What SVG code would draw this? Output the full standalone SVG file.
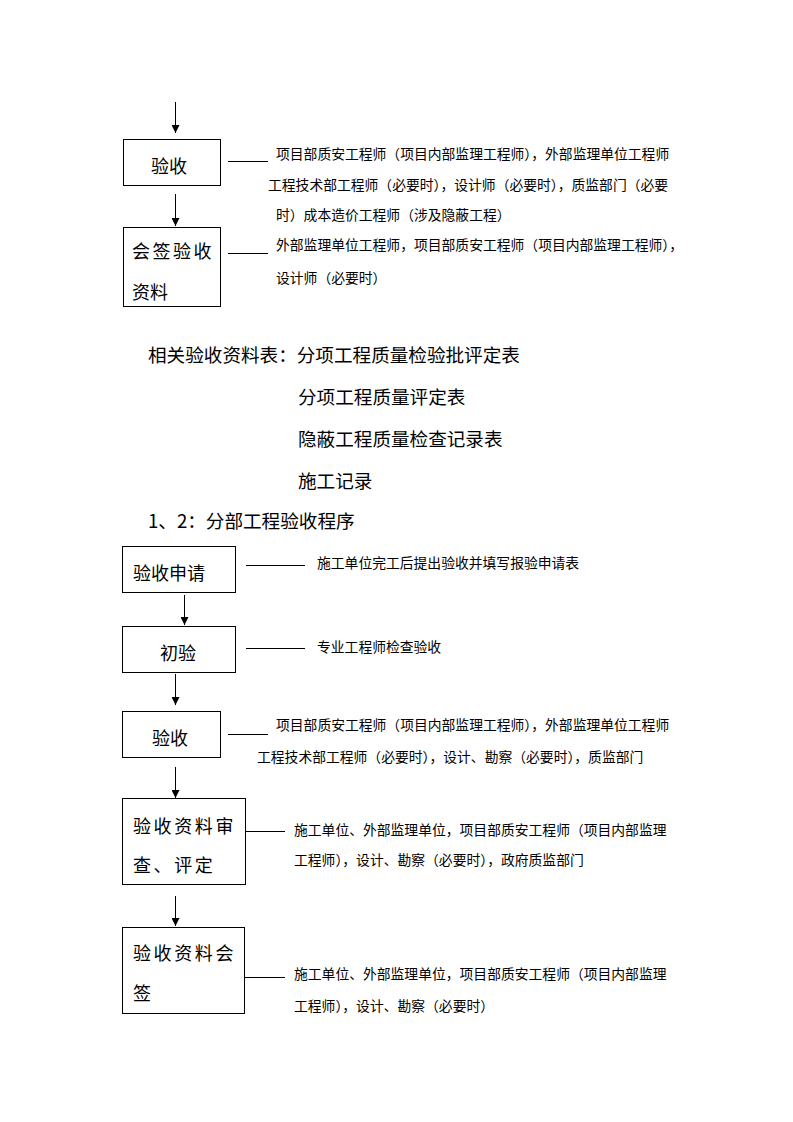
<svg xmlns="http://www.w3.org/2000/svg" width="793" height="1122" viewBox="0 0 793 1122">
<defs>
<marker id="ah" markerWidth="8" markerHeight="8" refX="8" refY="4" orient="auto" markerUnits="userSpaceOnUse">
<path d="M0,0 L8,4 L0,8 Z" fill="#000"/>
</marker>
<style>
.box{fill:#fff;stroke:#000;stroke-width:1}
.bt{font-family:"Noto Sans CJK SC","Liberation Sans",sans-serif;font-size:18px;fill:#000}
.st{font-family:"Noto Sans CJK SC","Liberation Sans",sans-serif;font-size:13.8px;fill:#000}
.sec{font-family:"Noto Sans CJK SC","Liberation Sans",sans-serif;font-size:18.6px;fill:#000}
.con{stroke:#000;stroke-width:1;fill:none}
.arr{stroke:#000;stroke-width:1;fill:none;marker-end:url(#ah)}
</style>
</defs>
<rect width="793" height="1122" fill="#fff"/>

<g id="connectors">
<line class="arr" x1="175.5" y1="102" x2="175.5" y2="133"/>
<line class="arr" x1="175.5" y1="194" x2="175.5" y2="226"/>
<line class="arr" x1="184.5" y1="595" x2="184.5" y2="625"/>
<line class="arr" x1="175.5" y1="674" x2="175.5" y2="705"/>
<line class="arr" x1="175.5" y1="767" x2="175.5" y2="798"/>
<line class="arr" x1="175.5" y1="896" x2="175.5" y2="926"/>
<line class="con" x1="228" y1="161.5" x2="268" y2="161.5"/>
<line class="con" x1="228" y1="253.5" x2="268" y2="253.5"/>
<line class="con" x1="246" y1="565.5" x2="305" y2="565.5"/>
<line class="con" x1="246" y1="648.5" x2="305" y2="648.5"/>
<line class="con" x1="228" y1="734.5" x2="268" y2="734.5"/>
<line class="con" x1="246" y1="831.5" x2="285" y2="831.5"/>
<line class="con" x1="245" y1="977.5" x2="285" y2="977.5"/>
</g>

<g id="n-yanshou1">
<rect class="box" x="123.5" y="139.5" width="97" height="46"/>
<text class="bt" x="151" y="172.5">验收</text>
</g>
<g id="n-yanshou1-note">
<text class="st" x="276" y="159">项目部质安工程师（项目内部监理工程师），外部监理单位工程师</text>
<text class="st" x="268" y="190">工程技术部工程师（必要时），设计师（必要时），质监部门（必要</text>
<text class="st" x="276" y="220">时）成本造价工程师（涉及隐蔽工程）</text>
</g>

<g id="n-huiqian1">
<rect class="box" x="123.5" y="227.5" width="97" height="79"/>
<text class="bt" x="132" y="258" letter-spacing="2.5">会签验收</text>
<text class="bt" x="132" y="299">资料</text>
</g>
<g id="n-huiqian1-note">
<text class="st" x="276" y="250">外部监理单位工程师，项目部质安工程师（项目内部监理工程师），</text>
<text class="st" x="276" y="283">设计师（必要时）</text>
</g>

<g id="section-text">
<text class="sec" x="148" y="362">相关验收资料表：分项工程质量检验批评定表</text>
<text class="sec" x="298" y="404">分项工程质量评定表</text>
<text class="sec" x="298" y="446">隐蔽工程质量检查记录表</text>
<text class="sec" x="298" y="488">施工记录</text>
<text class="sec" x="148" y="528">1、2：分部工程验收程序</text>
</g>

<g id="n-shenqing">
<rect class="box" x="122.5" y="546.5" width="113" height="46"/>
<text class="bt" x="133" y="580">验收申请</text>
</g>
<g id="n-shenqing-note">
<text class="st" x="317" y="568">施工单位完工后提出验收并填写报验申请表</text>
</g>

<g id="n-chuyan">
<rect class="box" x="122.5" y="626.5" width="113" height="46"/>
<text class="bt" x="160" y="660">初验</text>
</g>
<g id="n-chuyan-note">
<text class="st" x="317" y="652">专业工程师检查验收</text>
</g>

<g id="n-yanshou2">
<rect class="box" x="122.5" y="711.5" width="98" height="46"/>
<text class="bt" x="152" y="745">验收</text>
</g>
<g id="n-yanshou2-note">
<text class="st" x="276" y="730">项目部质安工程师（项目内部监理工程师），外部监理单位工程师</text>
<text class="st" x="257" y="762">工程技术部工程师（必要时），设计、勘察（必要时），质监部门</text>
</g>

<g id="n-shencha">
<rect class="box" x="122.5" y="798.5" width="123" height="86"/>
<text class="bt" x="133" y="833" letter-spacing="2.6">验收资料审</text>
<text class="bt" x="133" y="872" letter-spacing="2.6">查、评定</text>
</g>
<g id="n-shencha-note">
<text class="st" x="294" y="835">施工单位、外部监理单位，项目部质安工程师（项目内部监理</text>
<text class="st" x="294" y="865">工程师），设计、勘察（必要时），政府质监部门</text>
</g>

<g id="n-huiqian2">
<rect class="box" x="122.5" y="927.5" width="122" height="86"/>
<text class="bt" x="133" y="960" letter-spacing="2.6">验收资料会</text>
<text class="bt" x="133" y="1000">签</text>
</g>
<g id="n-huiqian2-note">
<text class="st" x="294" y="979">施工单位、外部监理单位，项目部质安工程师（项目内部监理</text>
<text class="st" x="294" y="1011">工程师），设计、勘察（必要时）</text>
</g>
</svg>
